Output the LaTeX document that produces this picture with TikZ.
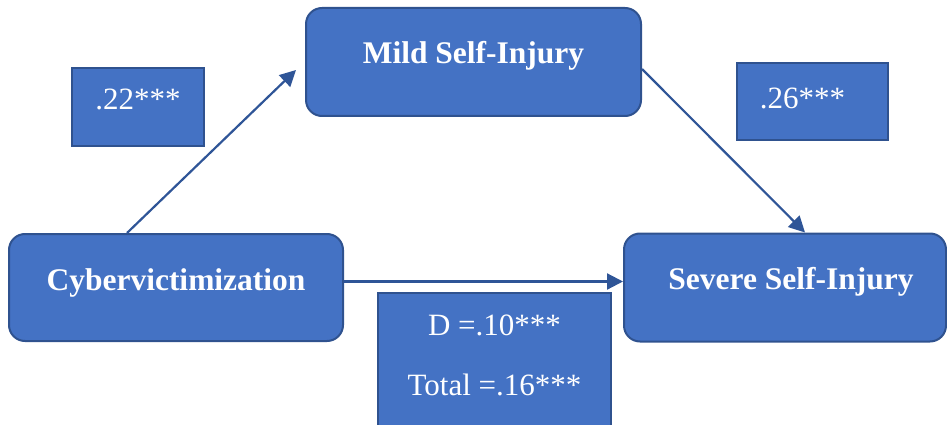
\documentclass[tikz,border=0pt]{standalone}
\usepackage{fontspec}
\setmainfont{Liberation Serif}
\usetikzlibrary{arrows.meta,calc}
\definecolor{boxfill}{HTML}{4472C4}
\definecolor{boxdraw}{HTML}{2F528F}
\definecolor{arrowc}{HTML}{2F5597}
\newcommand{\liftup}[2]{\raisebox{#1}[\height][\depth]{#2}}
\begin{document}
\begin{tikzpicture}[x=1pt,y=-1pt,
  varbox/.style={draw=boxdraw,fill=boxfill,line width=2pt,rounded corners=16pt,
    text=white,font=\fontsize{31.5}{36}\selectfont\bfseries,inner sep=0pt},
  coefbox/.style={draw=boxdraw,fill=boxfill,line width=2pt,
    text=white,font=\fontsize{31}{60}\selectfont,inner sep=0pt},
  path/.style={draw=arrowc,line width=2.2pt,-{Triangle[length=16pt,width=16pt]}}]
\useasboundingbox (0,0) rectangle (947,425);
% variables
\node[varbox,minimum width=335pt,minimum height=108pt] (mild) at (473.5,62) {\liftup{6pt}{Mild Self-Injury}};
\node[varbox,minimum width=334pt,minimum height=107pt] (cyber) at (176,287.5) {\liftup{5pt}{Cybervictimization}};
\node[varbox,minimum width=322pt,minimum height=108pt] (severe) at (785,287.5) {\liftup{6pt}{\hspace{12pt}Severe Self-Injury}};
% coefficients
\node[coefbox,minimum width=132pt,minimum height=78pt] (a) at (138,107) {\liftup{8pt}{.22***}};
\node[coefbox,minimum width=151pt,minimum height=77pt] (b) at (812.5,101.5) {\liftup{3pt}{.26***\hspace{20pt}}};
\node[coefbox,minimum width=233pt,minimum height=142pt] (c) at (494.5,364) {\liftup{11pt}{\begin{tabular}{@{}c@{}}D =.10***\\Total =.16***\end{tabular}}};
% paths
\draw[path] ([xshift=-49pt]cyber.north) -- ([xshift=-9pt,yshift=-8pt]mild.west);
\draw[path] ([yshift=-7pt]mild.east) -- ([xshift=20pt]severe.north);
\draw[path] ([yshift=6pt]cyber.east) -- ([yshift=6pt]cyber.east -| severe.west);
\end{tikzpicture}
\end{document}
